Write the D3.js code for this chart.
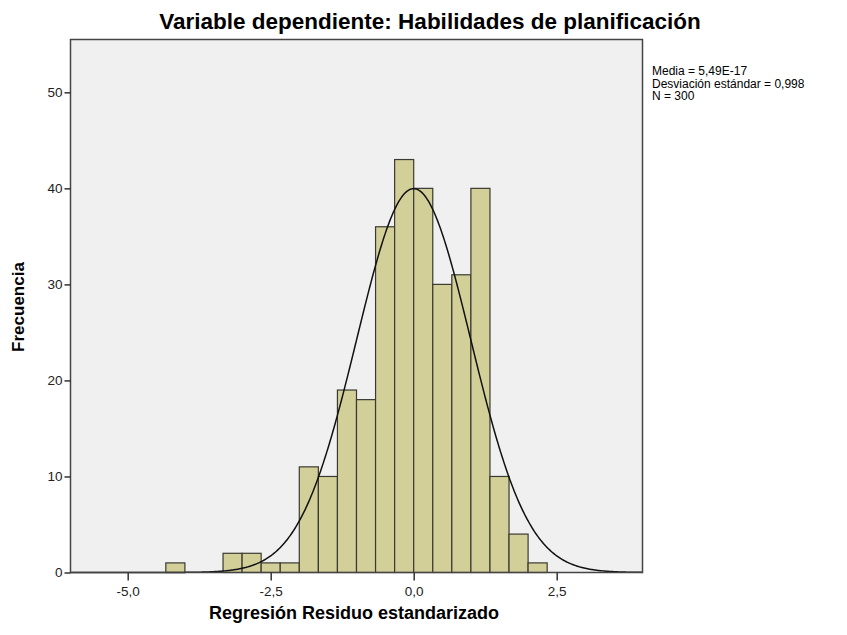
<!DOCTYPE html>
<html lang="es">
<head>
    <meta charset="UTF-8">
    <title>Histograma de residuos</title>
    <script src="https://d3js.org/d3.v7.min.js"></script>
    <style>
        body { margin: 0; background: #fff; }
        svg text { font-family: "Liberation Sans", Arial, sans-serif; fill: #000; }
        .tick text { font-size: 13.5px; fill: #222; }
        .tick line { stroke: #333; stroke-width: 1.5px; }
        .domain { display: none; }
    </style>
</head>
<body>
<div id="chart"></div>
<script>
// bin edges (width 1/3) and frequencies
const binStart = [-13/3, -4, -11/3, -10/3, -3, -8/3, -7/3, -2, -5/3, -4/3, -1, -2/3, -1/3, 0, 1/3, 2/3, 1, 4/3, 5/3, 2];
const binCount = [1, 0, 0, 2, 2, 1, 1, 11, 10, 19, 18, 36, 43, 40, 30, 31, 40, 10, 4, 1];
const binWidth = 1 / 3;

const xTicks = [-5, -2.5, 0, 2.5];
const yTicks = [0, 10, 20, 30, 40, 50];

const statMean = 5.49e-17;
const statSd = 0.998;
const statN = 300;
const legendLines = ["Media = 5,49E-17", "Desviación estándar = 0,998", "N = 300"];

const width = 847, height = 635;
const margin = { left: 70.5, top: 39.5, right: 847 - 642.5, bottom: 635 - 572.5 };
const pw = width - margin.left - margin.right;
const ph = height - margin.top - margin.bottom;

const svg = d3.select("#chart").append("svg")
    .attr("width", width)
    .attr("height", height);

const x = d3.scaleLinear().domain([-6, 4]).range([margin.left, margin.left + pw]);
const y = d3.scaleLinear().domain([0, 55.5]).range([margin.top + ph, margin.top]);

const fmt = v => d3.format(".1f")(v).replace(".", ",").replace("−", "-");

// plot background
svg.append("rect")
    .attr("x", margin.left).attr("y", margin.top)
    .attr("width", pw).attr("height", ph)
    .attr("fill", "#f0f0f0");

// bars
const bins = binStart.map((s, i) => ({ x0: s, x1: s + binWidth, n: binCount[i] })).filter(d => d.n > 0);
svg.append("g").selectAll("rect")
    .data(bins)
    .join("rect")
    .attr("x", d => x(d.x0))
    .attr("y", d => y(d.n))
    .attr("width", d => x(d.x1) - x(d.x0))
    .attr("height", d => y(0) - y(d.n))
    .attr("fill", "#d3cf98")
    .attr("stroke", "#3a3a32")
    .attr("stroke-width", 1.2);

// normal curve scaled to counts
const curve = d3.range(-6, 4.001, 0.02).map(v => {
    const z = (v - statMean) / statSd;
    return [v, statN * binWidth * Math.exp(-0.5 * z * z) / (statSd * Math.sqrt(2 * Math.PI))];
});
svg.append("path")
    .datum(curve)
    .attr("fill", "none")
    .attr("stroke", "#111")
    .attr("stroke-width", 1.5)
    .attr("d", d3.line().x(d => x(d[0])).y(d => y(d[1])));

// frame
svg.append("rect")
    .attr("x", margin.left).attr("y", margin.top)
    .attr("width", pw).attr("height", ph)
    .attr("fill", "none")
    .attr("stroke", "#444")
    .attr("stroke-width", 1.5);

// axes
svg.append("g")
    .attr("transform", `translate(0,${margin.top + ph})`)
    .call(d3.axisBottom(x).tickValues(xTicks).tickSize(8).tickPadding(6).tickFormat(fmt));

svg.append("g")
    .attr("transform", `translate(${margin.left},0)`)
    .call(d3.axisLeft(y).tickValues(yTicks).tickSize(6).tickPadding(2).tickFormat(d3.format("d")));

// title and axis labels
svg.append("text")
    .attr("x", 430).attr("y", 29)
    .attr("text-anchor", "middle")
    .attr("font-size", "22.5px").attr("font-weight", "bold")
    .text("Variable dependiente: Habilidades de planificación");

svg.append("text")
    .attr("x", 354).attr("y", 619)
    .attr("text-anchor", "middle")
    .attr("font-size", "18px").attr("font-weight", "bold")
    .text("Regresión Residuo estandarizado");

svg.append("text")
    .attr("transform", `translate(24,307) rotate(-90)`)
    .attr("text-anchor", "middle")
    .attr("font-size", "17px").attr("font-weight", "bold")
    .text("Frecuencia");

// stats legend
svg.append("g").selectAll("text")
    .data(legendLines)
    .join("text")
    .attr("x", 652)
    .attr("y", (d, i) => 75 + i * 12.5)
    .attr("font-size", "12px")
    .text(d => d);
</script>
</body>
</html>
